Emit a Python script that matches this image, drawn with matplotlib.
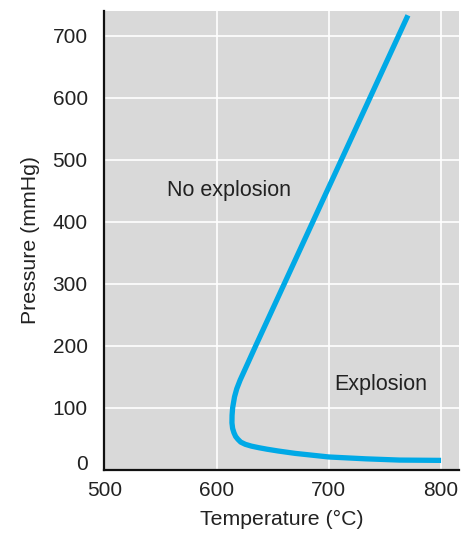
import numpy as np
import matplotlib.pyplot as plt
import matplotlib.transforms as mtransforms

plt.rcParams['font.family'] = ['Liberation Sans', 'DejaVu Sans']

# explosion limit curve (temperature in degC, pressure in mmHg)
temp = [800, 763, 733, 700, 670, 655, 645, 637.5, 631, 625.6, 621.5, 619, 617,
        615.5, 614.3, 613.7, 613.8, 614.3, 616, 618, 621, 627.8, 634.8, 770.5]
pres = [15.5, 16, 18, 21, 26.8, 30.6, 33.5, 36, 38.5, 41.4, 45, 49.5, 54,
        60, 67, 76, 88, 100, 118, 131, 145, 172, 200, 733]

xticks = [500, 600, 700, 800]
yticks = [0, 100, 200, 300, 400, 500, 600, 700]

fig = plt.figure(figsize=(4.61, 5.33), dpi=100)
ax = fig.add_axes([0.2263, 0.1182, 0.7694, 0.8612])
ax.set_facecolor('#d9d9d9')

ax.plot(temp, pres, color='#00a9e6', lw=3.8, solid_capstyle='butt',
        solid_joinstyle='round', zorder=3)

ax.set_xlim(500, 816)
ax.set_ylim(0, 740)
ax.set_xticks(xticks)
ax.set_yticks(yticks)
ax.grid(True, color='white', lw=1.2)
ax.set_axisbelow(True)
ax.tick_params(length=0, labelsize=15, colors='#222222')
ax.tick_params(axis='y', pad=12)
ax.tick_params(axis='x', pad=8)

for s in ['top', 'right']:
    ax.spines[s].set_visible(False)
for s in ['left', 'bottom']:
    ax.spines[s].set_linewidth(1.6)
    ax.spines[s].set_color('#111111')

# lift the "0" label off the x axis
lab0 = ax.get_yticklabels()[0]
lab0.set_transform(lab0.get_transform() +
                   mtransforms.ScaledTranslation(0, 7 / 100, fig.dpi_scale_trans))

ax.set_xlabel('Temperature (°C)', fontsize=15.3, color='#222222', labelpad=7)
ax.set_ylabel('Pressure (mmHg)', fontsize=15.3, color='#222222', labelpad=9)

ax.text(611, 450, 'No explosion', fontsize=15.5, color='#222222', ha='center', va='center')
ax.text(746, 138, 'Explosion', fontsize=15.5, color='#222222', ha='center', va='center')

fig.savefig('out.png', dpi=100)
